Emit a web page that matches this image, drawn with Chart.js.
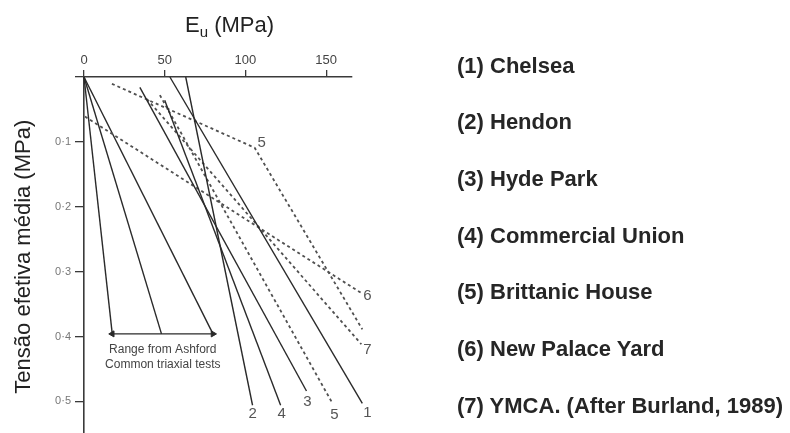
<!DOCTYPE html>
<html><head><meta charset="utf-8">
<script src="https://cdn.jsdelivr.net/npm/chart.js@4.4.1/dist/chart.umd.min.js"></script>
<style>
html,body{margin:0;padding:0;background:#fff;overflow:hidden;}
#wrap{position:relative;width:790px;height:433px;overflow:hidden;background:#fff;}
#c{position:absolute;left:0;top:0;}
.xt{position:absolute;left:185px;top:14px;font:22px 'Liberation Sans',Arial,sans-serif;color:#222;line-height:22px;white-space:nowrap;}
.xt sub{font-size:15px;vertical-align:-5px;line-height:0;}
.lg{position:absolute;left:457px;font:bold 22px 'Liberation Sans',Arial,sans-serif;color:#262626;line-height:22px;white-space:nowrap;}
</style></head><body>
<div id="wrap"><canvas id="c" width="790" height="447"></canvas></div>
<script>
// ---- axis ticks ----
const xTicks = [0, 50, 100, 150];
const yTicks = [0, 0.1, 0.2, 0.3, 0.4, 0.5];
const xTitle = 'E|u| (MPa)';
const yTitle = 'Tensão efetiva média (MPa)';

// ---- legend / categories ----
const siteNames = ['(1) Chelsea', '(2) Hendon', '(3) Hyde Park', '(4) Commercial Union',
  '(5) Brittanic House', '(6) New Palace Yard', '(7) YMCA. (After Burland, 1989)'];

// ---- series: Eu (MPa) vs mean effective stress (MPa) ----
const euChelsea = [53.2, 172.4];      const pChelsea = [0.0, 0.503];
const euHendon = [63.0, 104.4];       const pHendon = [0.0, 0.506];
const euHydePark = [34.6, 137.8];     const pHydePark = [0.016, 0.484];
const euCommercial = [50.0, 121.8];   const pCommercial = [0.036, 0.506];
const euBrittanic = [47.0, 153.9];    const pBrittanic = [0.028, 0.503];
const euBrittanicB = [17.3, 105.7, 172.4]; const pBrittanicB = [0.0105, 0.109, 0.389];
const euNewPalace = [0.6, 172.4];     const pNewPalace = [0.061, 0.334];
const euYmca = [39.0, 171.8];         const pYmca = [0.034, 0.412];

// Ashford Common triaxial range (lines from origin)
const euAshford = [17.5, 48.0, 79.9]; const pAshford = 0.396;

// ---- annotations ----
const annoText = ['1', '2', '3', '4', '5', '6', '7', '5'];
const annoEu = [175.5, 104.4, 138.4, 122.4, 155.1, 175.5, 175.5, 110.0];
const annoP = [0.518, 0.519, 0.501, 0.519, 0.521, 0.338, 0.421, 0.102];
const noteLines = ['Range from Ashford', 'Common triaxial tests'];
const noteEu = 48.8; const noteP = [0.421, 0.443];

// ---- HTML texts ----
const wrap = document.getElementById('wrap');
const xt = document.createElement('div'); xt.className = 'xt';
const xp = xTitle.split('|');
xt.innerHTML = xp[0] + '<sub>' + xp[1] + '</sub>' + xp[2];
wrap.appendChild(xt);
siteNames.forEach((s, i) => {
  const d = document.createElement('div'); d.className = 'lg';
  d.style.top = (54.5 + i * 56.67) + 'px';
  d.textContent = s; wrap.appendChild(d);
});

// ---- chart ----
const pts = (eu, p) => eu.map((v, i) => ({x: v, y: p[i]}));
const SOLID = '#2a2a2a', DASH = '#505050';
const solid = (label, data) => ({label, data, showLine: true, borderColor: SOLID, borderWidth: 1.4,
  pointRadius: 0, clip: false, tension: 0});
const dashed = (label, data) => ({label, data, showLine: true, borderColor: DASH, borderWidth: 1.8,
  borderDash: [3, 3], pointRadius: 0, clip: false, tension: 0});

const datasets = [
  solid(siteNames[0], pts(euChelsea, pChelsea)),
  solid(siteNames[1], pts(euHendon, pHendon)),
  solid(siteNames[2], pts(euHydePark, pHydePark)),
  solid(siteNames[3], pts(euCommercial, pCommercial)),
  dashed(siteNames[4], pts(euBrittanic, pBrittanic)),
  dashed(siteNames[4] + ' (b)', pts(euBrittanicB, pBrittanicB)),
  dashed(siteNames[5], pts(euNewPalace, pNewPalace)),
  dashed(siteNames[6], pts(euYmca, pYmca)),
];
euAshford.forEach((e, i) => datasets.push(solid('Ashford ' + (i + 1), [{x: 0, y: 0}, {x: e, y: pAshford}])));
datasets.push({label: 'Ashford range', data: [{x: euAshford[0], y: pAshford}, {x: euAshford[2], y: pAshford}],
  showLine: true, borderColor: SOLID, borderWidth: 1.4, pointStyle: 'triangle', pointRadius: 3.5,
  pointRotation: [-90, 90], pointBackgroundColor: SOLID, pointBorderColor: SOLID, pointBorderWidth: 1, clip: false});

const FONT = "'Liberation Sans', Arial, sans-serif";
Chart.defaults.font.family = FONT;

const notes = {
  id: 'notes',
  afterDatasetsDraw(chart) {
    const {ctx, scales: {x, y}} = chart;
    ctx.save();
    ctx.textAlign = 'center'; ctx.textBaseline = 'middle';
    ctx.fillStyle = '#555';
    ctx.font = '15px ' + FONT;
    annoText.forEach((t, i) => ctx.fillText(t, x.getPixelForValue(annoEu[i]), y.getPixelForValue(annoP[i])));
    ctx.fillStyle = '#444';
    ctx.font = '12px ' + FONT;
    noteLines.forEach((t, i) => ctx.fillText(t, x.getPixelForValue(noteEu), y.getPixelForValue(noteP[i])));
    ctx.restore();
  }
};

new Chart(document.getElementById('c'), {
  type: 'scatter',
  data: {datasets},
  plugins: [notes],
  options: {
    responsive: false,
    animation: false,
    layout: {padding: {left: 0, top: 0, right: 438, bottom: 0}},
    plugins: {legend: {display: false}, tooltip: {enabled: false}},
    scales: {
      x: {
        type: 'linear', position: 'top', min: 0, max: 166,
        afterBuildTicks: s => { s.ticks = xTicks.map(v => ({value: v})); },
        afterFit: s => { s.height = 77; },
        ticks: {color: '#444', font: {size: 13}, padding: 2, includeBounds: false},
        grid: {drawOnChartArea: false, drawTicks: true, tickLength: 7, color: '#3a3a3a', lineWidth: 1.3},
        border: {display: true, color: '#3a3a3a', width: 1.6},
        title: {display: false}
      },
      y: {
        type: 'linear', position: 'left', reverse: true, min: 0, max: 0.554,
        afterBuildTicks: s => { s.ticks = yTicks.map(v => ({value: v})); },
        afterFit: s => { s.width = 84; },
        ticks: {color: '#777', font: {size: 11}, padding: 4, includeBounds: false,
          callback: v => v === 0 ? '' : v.toFixed(1).replace('.', '·')},
        grid: {drawOnChartArea: false, drawTicks: true, tickLength: 9, color: '#3a3a3a', lineWidth: 1.3},
        border: {display: true, color: '#3a3a3a', width: 1.6},
        title: {display: true, text: yTitle, color: '#222', font: {size: 22}, padding: {top: 11, bottom: 0}}
      }
    }
  }
});
</script>
</body></html>
